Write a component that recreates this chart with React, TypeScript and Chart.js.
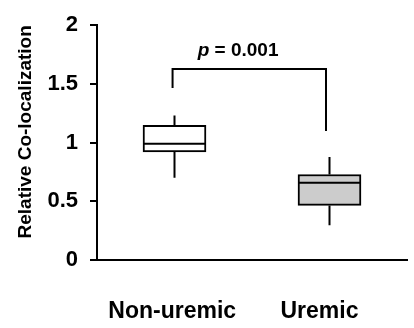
import React, { useEffect, useRef } from "react";
import { Chart, registerables } from "chart.js";

Chart.register(...registerables);

// ---- data ----
const groups = ["Non-uremic", "Uremic"];
const groupX = [1, 3];
const labelX = [0.97, 2.87];
const whiskerLow = [0.7, 0.296];
const q1 = [0.921, 0.465];
const median = [0.99, 0.658];
const q3 = [1.148, 0.728];
const whiskerHigh = [1.231, 0.877];
const boxFill = ["#ffffff", "#cccccc"];

const bracketX = [0.975, 0.975, 2.955, 2.955];
const bracketY = [1.466, 1.627, 1.627, 1.098];
const pLabelX = 1.82;
const pLabelY = 1.74;
const pValueText = " = 0.001";

const yTicks = [0, 0.5, 1, 1.5, 2];

const FONT = "'Liberation Sans', Arial, Helvetica, sans-serif";
const HALF = 0.4;

const pTextPlugin = {
  id: "pText",
  afterDatasetsDraw(chart: any) {
    const { ctx, scales } = chart;
    const x = scales.x.getPixelForValue(pLabelX);
    const y = scales.y.getPixelForValue(pLabelY);
    ctx.save();
    ctx.fillStyle = "#000";
    ctx.textBaseline = "alphabetic";
    ctx.font = `italic bold 19px ${FONT}`;
    const w1 = ctx.measureText("p").width;
    ctx.font = `bold 19px ${FONT}`;
    const w2 = ctx.measureText(pValueText).width;
    const start = x - (w1 + w2) / 2;
    ctx.font = `italic bold 19px ${FONT}`;
    ctx.textAlign = "left";
    ctx.fillText("p", start, y);
    ctx.font = `bold 19px ${FONT}`;
    ctx.fillText(pValueText, start + w1, y);
    ctx.restore();
  },
};

export default function App() {
  const ref = useRef<HTMLCanvasElement | null>(null);

  useEffect(() => {
    document.body.style.margin = "0";
    const lineDs = (pts: { x: number; y: number }[], width = 2) => ({
      type: "line" as const,
      data: pts,
      borderColor: "#000",
      borderWidth: width,
      pointRadius: 0,
      tension: 0,
      fill: false,
      order: 0,
    });

    const datasets: any[] = [];
    groupX.forEach((gx, i) => {
      datasets.push(lineDs([{ x: gx - HALF, y: median[i] }, { x: gx + HALF, y: median[i] }]));
      datasets.push(lineDs([{ x: gx, y: q3[i] }, { x: gx, y: whiskerHigh[i] }]));
      datasets.push(lineDs([{ x: gx, y: q1[i] }, { x: gx, y: whiskerLow[i] }]));
    });
    datasets.push(lineDs(bracketX.map((x, i) => ({ x, y: bracketY[i] })), 2));
    datasets.push({
      type: "bar",
      data: groupX.map((gx, i) => ({ x: gx, y: [q1[i], q3[i]] })),
      backgroundColor: boxFill,
      borderColor: "#000",
      borderWidth: 2,
      borderSkipped: false,
      barThickness: 63,
      order: 1,
    });

    const chart = new Chart(ref.current!, {
      type: "bar",
      data: { datasets },
      plugins: [pTextPlugin],
      options: {
        animation: false,
        responsive: false,
        devicePixelRatio: 1,
        layout: { padding: { top: 19, right: 7, bottom: 0, left: 0 } },
        plugins: { legend: { display: false }, tooltip: { enabled: false } },
        scales: {
          x: {
            type: "linear",
            min: 0,
            max: 4,
            offset: false,
            grid: { display: false, drawTicks: false, offset: false },
            border: { display: true, color: "#000", width: 2 },
            afterBuildTicks: (scale: any) => {
              scale.ticks = labelX.map((v) => ({ value: v }));
            },
            afterFit: (scale: any) => {
              scale.height = 68;
            },
            ticks: {
              autoSkip: false,
              maxRotation: 0,
              padding: 38,
              color: "#000",
              font: { family: FONT, size: 23, weight: "bold" },
              callback: (_v: any, i: number) => groups[i],
            },
          },
          y: {
            type: "linear",
            min: 0,
            max: 2,
            afterBuildTicks: (scale: any) => {
              scale.ticks = yTicks.map((v) => ({ value: v }));
            },
            afterFit: (scale: any) => {
              scale.width = 97;
            },
            grid: {
              drawOnChartArea: false,
              drawTicks: true,
              tickLength: 7,
              color: "#000",
              lineWidth: 2,
            },
            border: { display: true, color: "#000", width: 2 },
            ticks: {
              padding: 12,
              color: "#000",
              font: { family: FONT, size: 22, weight: "bold" },
              callback: (v: any) => String(v),
            },
            title: {
              display: true,
              text: "Relative Co-localization",
              align: "end",
              color: "#000",
              font: { family: FONT, size: 19, weight: "bold" },
              padding: { top: 14, bottom: 0 },
            },
          },
        },
      } as any,
    });
    return () => chart.destroy();
  }, []);

  return (
    <div style={{ width: 414, height: 328 }}>
      <canvas ref={ref} width={414} height={328} style={{ display: "block", width: 414, height: 328 }} />
    </div>
  );
}
